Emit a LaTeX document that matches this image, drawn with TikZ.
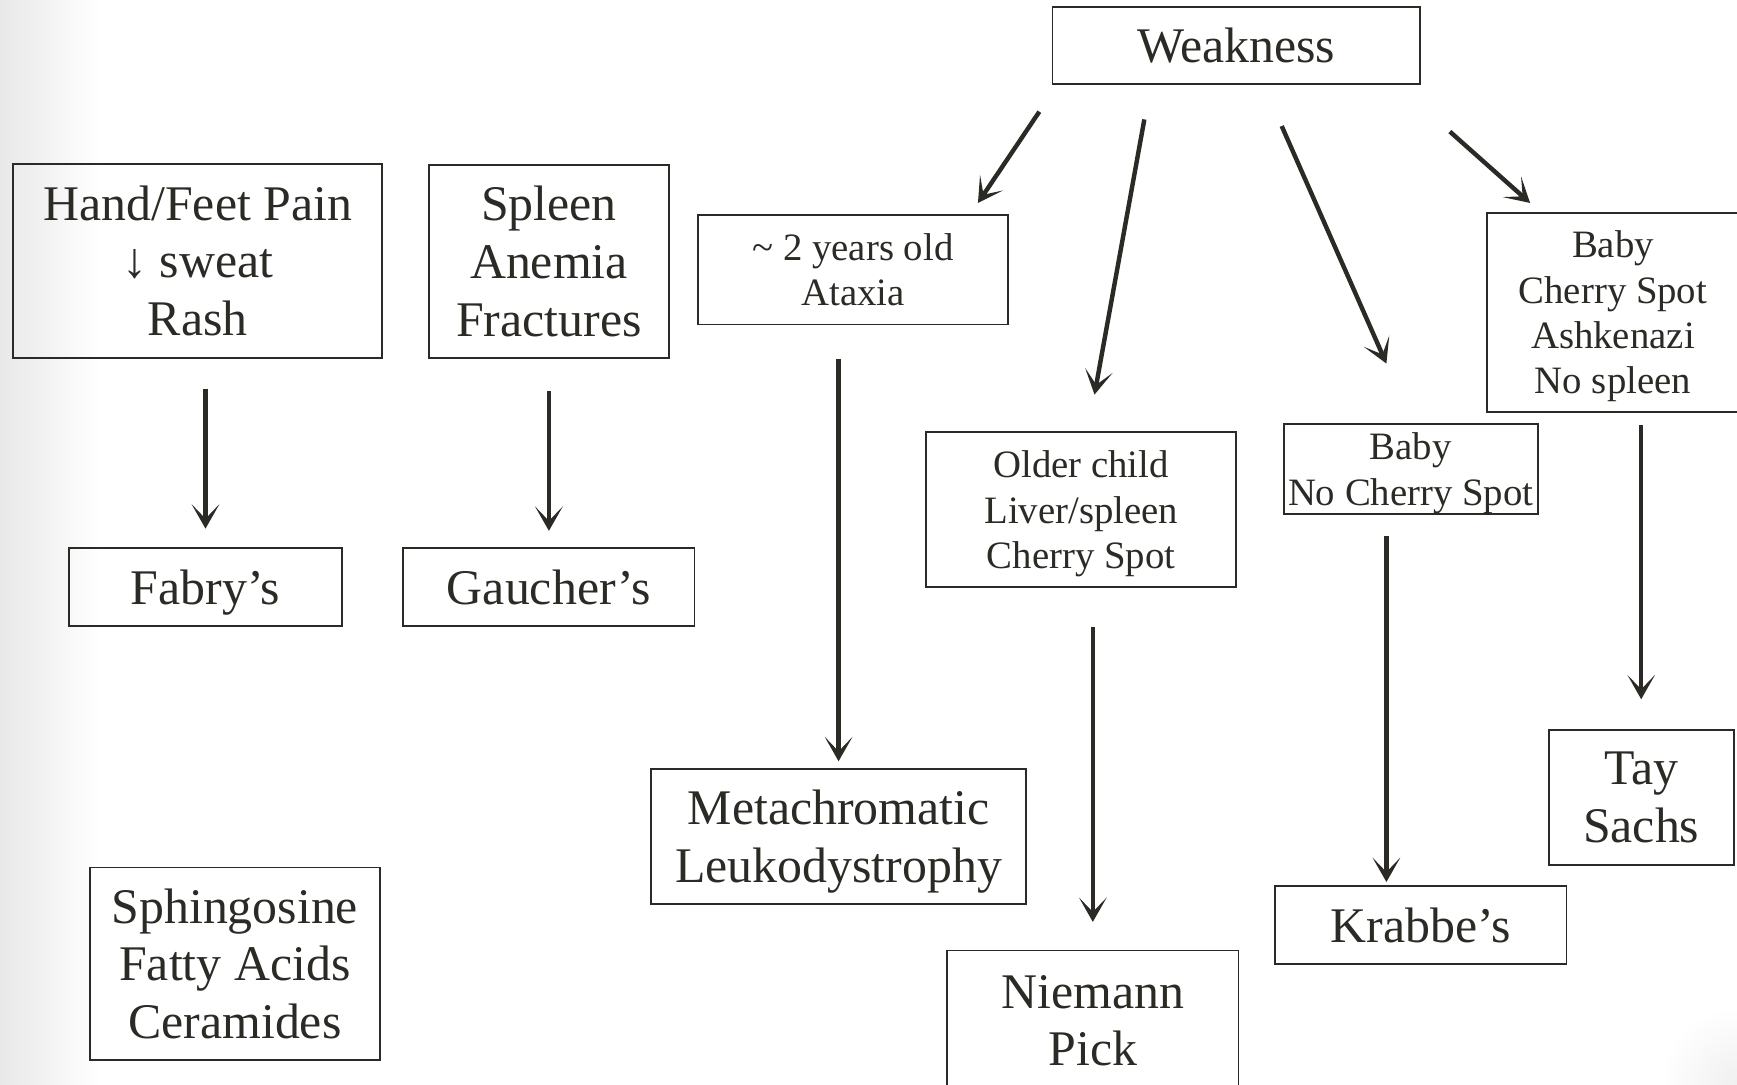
\documentclass[tikz,border=0pt]{standalone}
\usepackage{amsmath}
\usepackage{fontspec}
\setmainfont{Liberation Serif}
\usetikzlibrary{arrows.meta,calc}
\definecolor{ink}{HTML}{2B2A25}
\newcommand{\bigtxt}{\fontsize{45}{52}\selectfont}
\newcommand{\smalltxt}{\fontsize{35}{41}\selectfont}

\begin{document}
\begin{tikzpicture}[x=1pt,y=-1pt,
  box/.style={draw=ink,line width=1.6pt,text=ink,align=center,inner sep=0pt,font=\bigtxt},
  sbox/.style={box,font=\smalltxt},
  arr/.style={draw=ink,line width=4pt,-{Stealth[length=22pt,width=25pt,inset=13pt]}}]
  \useasboundingbox (0,0) rectangle (1568,979);
  \shade[left color=black!9,right color=white] (0,0) rectangle (90,979);
  \shade[inner color=black!6,outer color=white] (1568,979) circle (70);

  \node[box,minimum width=332,minimum height=70] (weak) at (1116,41) {Weakness};
  \node[box,minimum width=333,minimum height=175] (hand) at (178.5,235.5) {Hand/Feet Pain\\↓ sweat\\Rash};
  \node[box,minimum width=217,minimum height=174] (spleen) at (495.5,236) {Spleen\\Anemia\\Fractures};
  \node[sbox,minimum width=280,minimum height=99] (age) at (770,243.5) {\textasciitilde{} 2 years old\\Ataxia};
  \node[sbox,minimum width=228,minimum height=180] (baby) at (1456,282) {Baby\\Cherry Spot\\Ashkenazi\\\smash[b]{No spleen}};
  \node[sbox,minimum width=280,minimum height=140] (older) at (976,460) {Older child\\Liver/spleen\\\smash[b]{Cherry Spot}};
  \node[sbox,minimum width=229,minimum height=81] (nocherry) at (1273.5,423.5) {Baby\\\smash[b]{No Cherry Spot}};
  \node[box,minimum width=247,minimum height=70,text depth=0pt] (fabry) at (185.5,530) {Fabry’s};
  \node[box,minimum width=263,minimum height=70,text depth=0pt] (gaucher) at (495.5,530) {Gaucher’s};
  \node[box,minimum width=338,minimum height=122] (meta) at (757,755) {Metachromatic\\\smash[b]{Leukodystrophy}};
  \node[box,minimum width=263,minimum height=127] (niemann) at (986.5,921.5) {Niemann\\Pick};
  \node[box,minimum width=263,minimum height=70,text depth=0pt] (krabbe) at (1282.5,835) {Krabbe’s};
  \node[box,minimum width=167,minimum height=122] (taysachs) at (1481.5,720) {Tay\\Sachs};
  \node[box,minimum width=262,minimum height=174] (sphingo) at (212,870) {Sphingosine\\Fatty Acids\\Ceramides};

  \draw[arr] ($(weak.south west)+(-11,24)$) -- ($(age.north east)+(-28,-10)$);
  \draw[arr] ($(weak.south)+(-83,31)$) -- ($(older.north)+(12,-33)$);
  \draw[arr] ($(weak.south)+(41,37)$) -- ($(nocherry.north)+(-22,-54)$);
  \draw[arr] ($(weak.south east)+(26,42)$) -- ($(baby.north west)+(40,-8)$);

  \draw[arr,shorten <=27pt,shorten >=17pt] (hand.south -| fabry.north) -- (fabry.north);
  \draw[arr,shorten <=29pt,shorten >=15pt] (spleen.south) -- (gaucher.north);
  \draw[arr,shorten <=30pt,shorten >=6pt] (age.south -| meta.north) -- (meta.north);
  \draw[arr,shorten <=35pt,shorten >=25pt] (older.south -| niemann.north) -- (niemann.north);
  \draw[arr,shorten <=19pt,shorten >=3pt] ([xshift=-22pt]nocherry.south) -- ([xshift=-22pt]nocherry.south |- krabbe.north);
  \draw[arr,shorten <=11pt,shorten >=27pt] (baby.south -| taysachs.north) -- (taysachs.north);
\end{tikzpicture}
\end{document}
